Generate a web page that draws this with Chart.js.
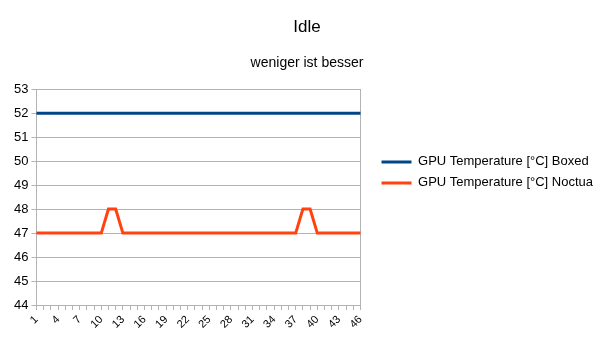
<!DOCTYPE html>
<html>
<head>
<meta charset="utf-8">
<script src="https://cdn.jsdelivr.net/npm/chart.js@4"></script>
<style>
  html, body { margin: 0; padding: 0; background: #fff; }
  #wrap { width: 605px; height: 340px; }
</style>
</head>
<body>
<div id="wrap"><canvas id="myChart"></canvas></div>
<script>
// Messpunkte 1..46
var labels = [];
for (var i = 1; i <= 46; i++) labels.push(String(i));

var boxed = [52,52,52,52,52,52,52,52,52,52,52,52,52,52,52,52,52,52,52,52,52,52,52,
             52,52,52,52,52,52,52,52,52,52,52,52,52,52,52,52,52,52,52,52,52,52,52];
var noctua = [47,47,47,47,47,47,47,47,47,47,48,48,47,47,47,47,47,47,47,47,47,47,47,
              47,47,47,47,47,47,47,47,47,47,47,47,47,47,48,48,47,47,47,47,47,47,47];

var yMin = 44, yMax = 53;

Chart.defaults.font.family = '"Liberation Sans", Arial, sans-serif';
Chart.defaults.color = '#000';

var ctx = document.getElementById('myChart').getContext('2d');
var chart = new Chart(ctx, {
  type: 'line',
  data: {
    labels: labels,
    datasets: [
      {
        label: 'GPU Temperature [°C] Boxed',
        data: boxed,
        borderColor: '#004586',
        backgroundColor: '#004586',
        borderWidth: 3,
        pointRadius: 0,
        tension: 0
      },
      {
        label: 'GPU Temperature [°C] Noctua',
        data: noctua,
        borderColor: '#ff420e',
        backgroundColor: '#ff420e',
        borderWidth: 3,
        pointRadius: 0,
        tension: 0
      }
    ]
  },
  options: {
    responsive: true,
    maintainAspectRatio: false,
    animation: false,
    layout: { padding: { left: 11, right: 2, top: 0, bottom: 6 } },
    plugins: {
      title: {
        display: true,
        text: 'Idle',
        font: { size: 17, weight: 'normal' },
        padding: { top: 17, bottom: 17 }
      },
      subtitle: {
        display: true,
        text: 'weniger ist besser',
        font: { size: 14, weight: 'normal' },
        padding: { top: 0, bottom: 18 }
      },
      legend: {
        position: 'right',
        align: 'center',
        maxWidth: 300,
        title: { display: true, text: '', padding: 0, font: { size: 9 } },
        labels: {
          boxWidth: 30,
          boxHeight: 3,
          padding: 8,
          font: { size: 13 },
          generateLabels: function (chart) {
            return chart.data.datasets.map(function (ds, i) {
              return {
                text: ds.label,
                fillStyle: ds.borderColor,
                strokeStyle: ds.borderColor,
                lineWidth: 0,
                datasetIndex: i
              };
            });
          }
        }
      },
      tooltip: { enabled: false }
    },
    scales: {
      x: {
        offset: false,
        grid: {
          drawOnChartArea: false,
          drawTicks: true,
          tickLength: 5,
          color: '#b3b3b3'
        },
        border: { color: '#b3b3b3' },
        ticks: {
          autoSkip: false,
          maxRotation: 45,
          minRotation: 45,
          padding: 3,
          font: { size: 11 },
          callback: function (v, i) { return i % 3 === 0 ? labels[i] : ''; }
        }
      },
      y: {
        min: yMin,
        max: yMax,
        grid: { color: '#b3b3b3', tickLength: 5 },
        border: { color: '#b3b3b3' },
        ticks: { stepSize: 1, font: { size: 13 }, padding: 3 }
      },
      // nur rechte Rahmenlinie + Abstand zur Legende
      yRight: {
        position: 'right',
        min: yMin,
        max: yMax,
        grid: { drawOnChartArea: false, drawTicks: false },
        border: { color: '#b3b3b3' },
        ticks: { display: false },
        afterFit: function (scale) { scale.width = 13; }
      }
    }
  }
});
</script>
</body>
</html>
